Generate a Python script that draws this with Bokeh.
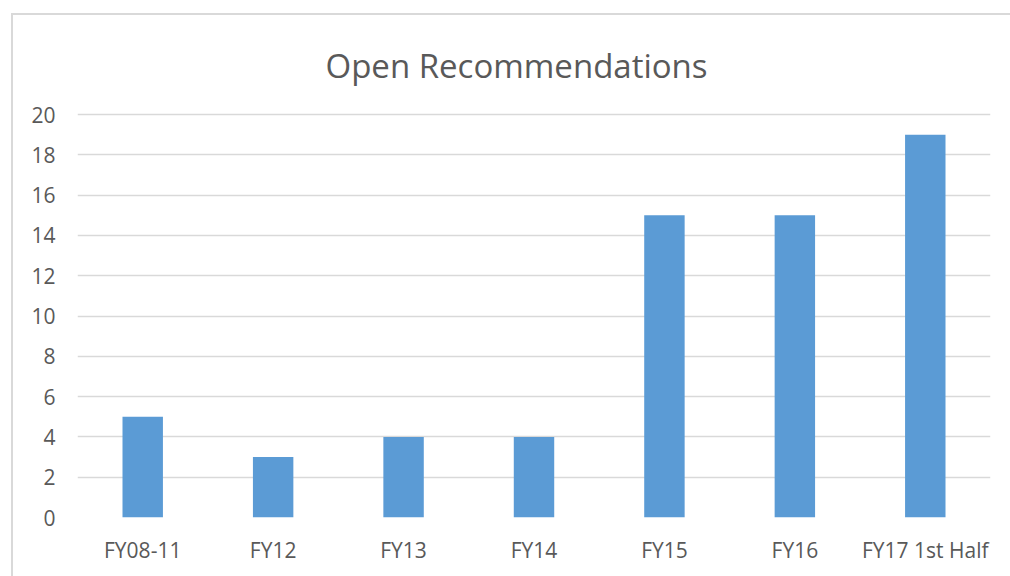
from bokeh.plotting import figure
from bokeh.models import FixedTicker
from bokeh.embed import file_html
from bokeh.resources import INLINE

categories = ["FY08-11", "FY12", "FY13", "FY14", "FY15", "FY16", "FY17 1st Half"]
values = [5, 3, 4, 4, 15, 15, 19]
y_ticks = [0, 2, 4, 6, 8, 10, 12, 14, 16, 18, 20]

FONT = "Open Sans"
GRAY = "#595959"

p = figure(x_range=categories, y_range=(0, 20.1), width=999, height=563,
           output_backend="svg", toolbar_location=None, title="Open Recommendations",
           min_border_left=64, min_border_right=22, min_border_top=97, min_border_bottom=61,
           margin=(13, 0, 0, 11),
           styles={"border-left": "2px solid #d9d9d9", "border-top": "2px solid #d9d9d9"})

p.vbar(x=categories, top=values, width=0.31, color="#5B9BD5", line_color=None)

p.title.align = "left"
p.title.text_font = FONT
p.title.text_font_size = "33px"
p.title.text_font_style = "normal"
p.title.text_color = GRAY
p.title.standoff = 50
p.title.offset = 248

p.outline_line_color = None
p.background_fill_color = "white"
p.border_fill_color = "white"

p.xgrid.grid_line_color = None
p.ygrid.grid_line_color = "#d9d9d9"
p.ygrid.grid_line_width = 1.5
p.yaxis.ticker = FixedTicker(ticks=y_ticks)

for ax in (p.xaxis, p.yaxis):
    ax.axis_line_color = None
    ax.major_tick_line_color = None
    ax.minor_tick_line_color = None
    ax.major_label_text_font = FONT
    ax.major_label_text_font_size = "21px"
    ax.major_label_text_color = GRAY
p.yaxis.major_label_standoff = 16
p.xaxis.major_label_standoff = 12

open("out.html", "w").write(file_html(p, INLINE))
